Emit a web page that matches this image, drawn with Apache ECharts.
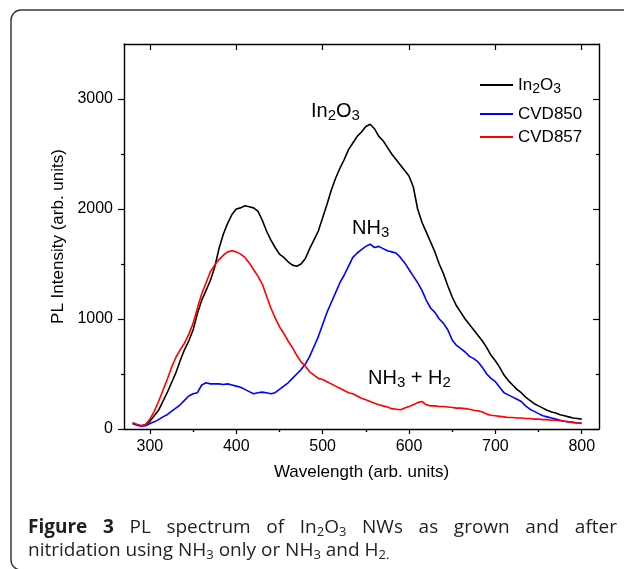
<!DOCTYPE html>
<html><head><meta charset="utf-8">
<script src="https://cdn.jsdelivr.net/npm/echarts@6/dist/echarts.min.js"></script>
<style>html,body{margin:0;padding:0;background:#fff}#c{width:624px;height:569px}</style>
</head><body><div id="c"></div>
<script>
const wavelengths = [280,285,290,295,300,305,310,315,320,325,330,335,340,345,350,355,360,365,370,375,380,385,390,395,400,405,410,415,420,425,430,435,440,445,450,455,460,465,470,475,480,485,490,495,500,505,510,515,520,525,530,535,540,545,550,555,560,565,570,575,580,585,590,595,600,605,610,615,620,625,630,635,640,645,650,655,660,665,670,675,680,685,690,695,700,705,710,715,720,725,730,735,740,745,750,755,760,765,770,775,780,785,790,795,800];
const in2o3 = [50,40,30,40,70,120,170,250,330,420,510,620,720,800,900,1050,1170,1260,1350,1470,1640,1770,1870,1950,2000,2010,2030,2020,2010,1980,1900,1800,1720,1650,1590,1560,1520,1490,1480,1500,1550,1640,1720,1800,1920,2040,2170,2280,2370,2450,2540,2600,2660,2700,2750,2770,2730,2660,2620,2560,2500,2450,2400,2350,2300,2200,2000,1880,1790,1700,1610,1500,1410,1300,1200,1120,1060,1000,950,900,850,800,740,670,620,560,490,440,400,360,330,290,260,230,210,190,170,155,145,130,120,110,100,95,90];
const cvd850 = [50,35,25,30,50,65,85,110,130,160,190,220,260,300,320,330,400,420,410,410,410,405,410,400,390,380,360,340,320,330,335,330,320,330,360,390,420,460,500,540,590,660,750,840,950,1060,1150,1240,1330,1400,1480,1560,1600,1630,1660,1680,1650,1660,1640,1620,1610,1600,1560,1510,1450,1390,1330,1260,1170,1100,1060,1000,960,900,810,760,730,700,660,640,610,560,500,460,430,380,330,310,290,270,250,210,180,160,140,120,110,100,90,80,70,65,60,55,50];
const cvd857 = [60,40,30,40,90,160,250,350,450,560,650,720,780,860,960,1100,1230,1330,1430,1490,1540,1580,1610,1620,1610,1590,1560,1510,1450,1390,1320,1210,1100,1010,930,870,800,740,670,610,570,520,490,460,450,430,410,390,370,350,330,320,300,280,265,250,235,220,210,200,185,180,175,190,205,220,240,250,220,210,210,205,205,200,195,190,190,185,180,170,165,155,135,125,120,115,110,105,105,100,100,95,95,90,90,85,85,80,80,75,70,65,60,55,55];
const seriesNames = ['In2O3', 'CVD850', 'CVD857'];
const seriesColors = ['#000000', '#0000ff', '#ff0000'];
const xMajor = [300,400,500,600,700,800];
const xMinor = [350,450,550,650,750];
const yMajor = [0,1000,2000,3000];
const yMinor = [500,1500,2500];

const FONT = "'Liberation Sans', Arial, sans-serif";
const CAP = "'Open Sans', 'Noto Sans', sans-serif";
const axisColor = '#000';
const lineW = 1.4;

function axis(opts) {
  return Object.assign({
    type: 'value', min: 270, max: 820,
    axisLine: { show: true, onZero: false, lineStyle: { color: axisColor, width: lineW } },
    splitLine: { show: false },
    axisLabel: { show: false }
  }, opts);
}
function yaxis(opts) {
  return Object.assign({
    type: 'value', min: 0, max: 3500,
    axisLine: { show: true, onZero: false, lineStyle: { color: axisColor, width: lineW } },
    splitLine: { show: false },
    axisLabel: { show: false }
  }, opts);
}
const tickStyle = { color: axisColor, width: 1.2 };
const plain = v => String(v);

const data = [in2o3, cvd850, cvd857].map(arr => wavelengths.map((w, i) => [w, arr[i]]));

const rich = { s: { fontSize: 14, fontFamily: FONT, color: '#000', padding: [8, 0, 0, 0] } };
const richAnn = { s: { fontSize: 15, fontFamily: FONT, color: '#000', padding: [9, 0, 0, 0] } };

function legendFor(i, top) {
  return {
    data: [seriesNames[i]], left: 480, top: top, orient: 'vertical',
    itemWidth: 33, itemHeight: 2, icon: 'rect', padding: 0, itemGap: 0,
    selectedMode: false,
    textStyle: { fontSize: 17, color: '#000', fontFamily: FONT, rich: rich },
    formatter: function (n) { return n === 'In2O3' ? 'In{s|2}O{s|3}' : n; }
  };
}

// caption line 1 justified
const capSize = 19;
const mctx = document.createElement('canvas').getContext('2d');
function mw(text, size, weight) {
  mctx.font = (weight || 'normal') + ' ' + size + 'px ' + CAP;
  return mctx.measureText(text).width;
}
const subSize = 13;
const words1 = [
  { t: 'Figure', w: mw('Figure', capSize, 'bold'), bold: true },
  { t: '3', w: mw('3', capSize, 'bold'), bold: true },
  { t: 'PL', w: mw('PL', capSize) },
  { t: 'spectrum', w: mw('spectrum', capSize) },
  { t: 'of', w: mw('of', capSize) },
  { t: 'In{s|2}O{s|3}', w: mw('In', capSize) + mw('O', capSize) + 2 * mw('2', subSize) },
  { t: 'NWs', w: mw('NWs', capSize) },
  { t: 'as', w: mw('as', capSize) },
  { t: 'grown', w: mw('grown', capSize) },
  { t: 'and', w: mw('and', capSize) },
  { t: 'after', w: mw('after', capSize) }
];
const capLeft = 28, capRight = 617;
const totalW = words1.reduce((a, b) => a + b.w, 0);
const gap = (capRight - capLeft - totalW) / (words1.length - 1);
const capRich = { s: { fontSize: subSize, fontFamily: CAP, fill: '#231f20', padding: [8, 0, 0, 0] } };
const graphics = [
  { type: 'rect', z: -1, silent: true, shape: { x: 11, y: 10, width: 700, height: 560, r: 10 },
    style: { fill: 'none', stroke: '#3a3a3a', lineWidth: 1.5 } },
  { type: 'text', x: 311, y: 111, style: { text: 'In{s|2}O{s|3}', fontSize: 20, fontFamily: FONT, fill: '#000', verticalAlign: 'middle', align: 'left', rich: richAnn } },
  { type: 'text', x: 352, y: 228, style: { text: 'NH{s|3}', fontSize: 20, fontFamily: FONT, fill: '#000', verticalAlign: 'middle', align: 'left', rich: richAnn } },
  { type: 'text', x: 368, y: 378, style: { text: 'NH{s|3} + H{s|2}', fontSize: 20, fontFamily: FONT, fill: '#000', verticalAlign: 'middle', align: 'left', rich: richAnn } }
];
let cx = capLeft;
words1.forEach(w => {
  graphics.push({ type: 'text', x: cx, y: 528, style: { text: w.t, fontSize: capSize, fontFamily: CAP, fontWeight: w.bold ? 'bold' : 'normal', fill: '#231f20', verticalAlign: 'middle', align: 'left', rich: capRich } });
  cx += w.w + gap;
});
graphics.push({ type: 'text', x: capLeft, y: 551, style: { text: 'nitridation using NH{s|3} only or NH{s|3} and H{s|2.}', fontSize: capSize, fontFamily: CAP, fill: '#231f20', verticalAlign: 'middle', align: 'left', rich: capRich } });

const chart = echarts.init(document.getElementById('c'), null, { renderer: 'canvas' });
chart.setOption({
  animation: false,
  backgroundColor: '#fff',
  grid: [
    { left: 124, top: 44, width: 475, height: 385 },
    { left: 124, top: 44, width: 475, height: 385 }
  ],
  xAxis: [
    axis({ gridIndex: 0, position: 'bottom',
      axisTick: { show: true, inside: false, length: 5, customValues: xMajor, lineStyle: tickStyle },
      axisLabel: { show: true, customValues: xMajor, formatter: plain, fontSize: 16, color: '#000', fontFamily: FONT, margin: 10 },
      name: 'Wavelength (arb. units)', nameLocation: 'middle', nameGap: 35,
      nameTextStyle: { fontSize: 17, color: '#000', fontFamily: FONT } }),
    axis({ gridIndex: 0, position: 'top',
      axisTick: { show: true, inside: true, length: 6, customValues: xMajor, lineStyle: tickStyle } }),
    axis({ gridIndex: 1, position: 'bottom', axisLine: { show: false },
      axisTick: { show: true, inside: false, length: 3, customValues: xMinor, lineStyle: tickStyle } }),
    axis({ gridIndex: 1, position: 'top', axisLine: { show: false },
      axisTick: { show: true, inside: true, length: 3, customValues: xMinor, lineStyle: tickStyle } })
  ],
  yAxis: [
    yaxis({ gridIndex: 0, position: 'left',
      axisTick: { show: true, inside: false, length: 6, customValues: yMajor, lineStyle: tickStyle },
      axisLabel: { show: true, customValues: yMajor, formatter: plain, fontSize: 16, color: '#000', fontFamily: FONT, margin: 11 },
      name: 'PL Intensity (arb. units)', nameLocation: 'middle', nameGap: 52,
      nameTextStyle: { fontSize: 17, color: '#000', fontFamily: FONT } }),
    yaxis({ gridIndex: 0, position: 'right',
      axisTick: { show: true, inside: true, length: 6, customValues: yMajor, lineStyle: tickStyle } }),
    yaxis({ gridIndex: 1, position: 'left', axisLine: { show: false },
      axisTick: { show: true, inside: false, length: 3, customValues: yMinor, lineStyle: tickStyle } }),
    yaxis({ gridIndex: 1, position: 'right', axisLine: { show: false },
      axisTick: { show: true, inside: true, length: 3, customValues: yMinor, lineStyle: tickStyle } })
  ],
  legend: [legendFor(0, 76.5), legendFor(1, 105.5), legendFor(2, 128.5)],
  series: seriesNames.map((n, i) => ({
    name: n, type: 'line', xAxisIndex: 0, yAxisIndex: 0,
    data: data[i], showSymbol: false, symbol: 'none', smooth: false,
    color: seriesColors[i],
    lineStyle: { color: seriesColors[i], width: 1.6 },
    itemStyle: { color: seriesColors[i] },
    emphasis: { disabled: true }
  })),
  graphic: graphics
});
</script></body></html>
